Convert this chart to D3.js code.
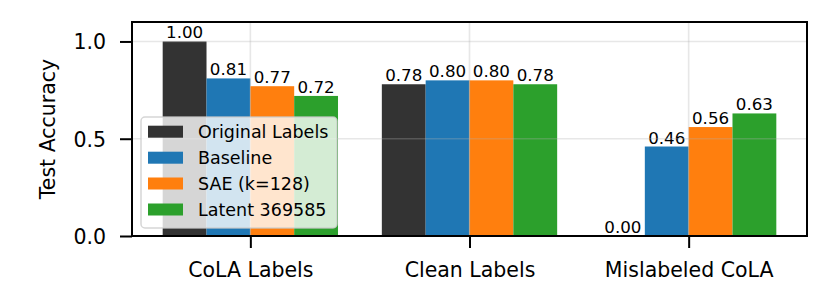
<!DOCTYPE html>
<html><head><meta charset="utf-8">
<script src="https://cdn.jsdelivr.net/npm/d3@7"></script>
<style>body{margin:0;background:#fff}svg{display:block}text{font-family:"DejaVu Sans",sans-serif}</style>
</head><body><svg id="c" width="830" height="307"></svg>
<script>
const categories = ["CoLA Labels", "Clean Labels", "Mislabeled CoLA"];
const seriesNames = ["Original Labels", "Baseline", "SAE (k=128)", "Latent 369585"];
const seriesColors = ["#333333", "#1f77b4", "#ff7f0e", "#2ca02c"];
const originalLabels = [1.00, 0.78, 0.00];
const baseline = [0.81, 0.80, 0.46];
const sae = [0.77, 0.80, 0.56];
const latent = [0.72, 0.78, 0.63];
const yTicks = [0.0, 0.5, 1.0];
const series = [originalLabels, baseline, sae, latent];

const svg = d3.select("#c");
const L = 132, R = 807, T = 22, B = 236;
const x = d3.scaleLinear().domain([-0.54, 2.54]).range([L, R]);
const y = d3.scaleLinear().domain([0, 1.1]).range([B, T]);
const bw = 0.2;

// bars
series.forEach((vals, si) => {
  svg.append("g").selectAll("rect").data(vals).join("rect")
    .attr("x", (d, i) => x(i - 0.4 + si * bw))
    .attr("width", x(bw) - x(0))
    .attr("y", d => y(d))
    .attr("height", d => y(0) - y(d))
    .attr("fill", seriesColors[si]);
  svg.append("g").selectAll("text").data(vals).join("text")
    .attr("x", (d, i) => x(i - 0.4 + si * bw + bw / 2))
    .attr("y", d => y(d) - 3)
    .attr("text-anchor", "middle")
    .attr("font-size", "16.7px")
    .text(d => d.toFixed(2));
});

// grid (on top, semi-transparent)
const grid = svg.append("g").attr("stroke", "#b0b0b0").attr("stroke-opacity", 0.3).attr("stroke-width", 1.6);
yTicks.forEach(t => grid.append("line").attr("x1", L).attr("x2", R).attr("y1", y(t)).attr("y2", y(t)));
categories.forEach((c, i) => grid.append("line").attr("x1", x(i)).attr("x2", x(i)).attr("y1", T).attr("y2", B));

// axes
const yAxis = d3.axisLeft(y).tickValues(yTicks).tickFormat(d3.format(".1f")).tickSize(12).tickPadding(14);
const gy = svg.append("g").attr("transform", `translate(${L},0)`).call(yAxis);
const xAxis = d3.axisBottom(x).tickValues([0, 1, 2]).tickFormat(i => categories[i]).tickSize(12).tickPadding(14);
const gx = svg.append("g").attr("transform", `translate(0,${B})`).call(xAxis);
[gx, gy].forEach(g => {
  g.select(".domain").remove();
  g.selectAll(".tick line").attr("stroke", "#000").attr("stroke-width", 2);
  g.selectAll(".tick text").attr("font-size", "20.5px").attr("fill", "#000").attr("font-family", "DejaVu Sans");
});
gy.selectAll(".tick text").attr("dy", "0.36em");
gx.selectAll(".tick text").attr("dy", "0.73em");

svg.append("rect").attr("x", L).attr("y", T).attr("width", R - L).attr("height", B - T)
  .attr("fill", "none").attr("stroke", "#000").attr("stroke-width", 2);

svg.append("text").attr("transform", `translate(55,${(T + B) / 2}) rotate(-90)`)
  .attr("text-anchor", "middle").attr("font-size", "20.5px").text("Test Accuracy");

// legend
const lg = svg.append("g");
lg.append("rect").attr("x", 141).attr("y", 117).attr("width", 196).attr("height", 111).attr("rx", 4)
  .attr("fill", "#fff").attr("fill-opacity", 0.8).attr("stroke", "#cccccc").attr("stroke-opacity", 0.8).attr("stroke-width", 1.5);
const rows = [131.7, 157.7, 183.5, 209.5];
seriesNames.forEach((n, i) => {
  lg.append("rect").attr("x", 148).attr("y", rows[i] - 6).attr("width", 35).attr("height", 12).attr("fill", seriesColors[i]);
  lg.append("text").attr("x", 198).attr("y", rows[i] + 6.2).attr("font-size", "17.5px").text(n);
});
</script></body></html>
